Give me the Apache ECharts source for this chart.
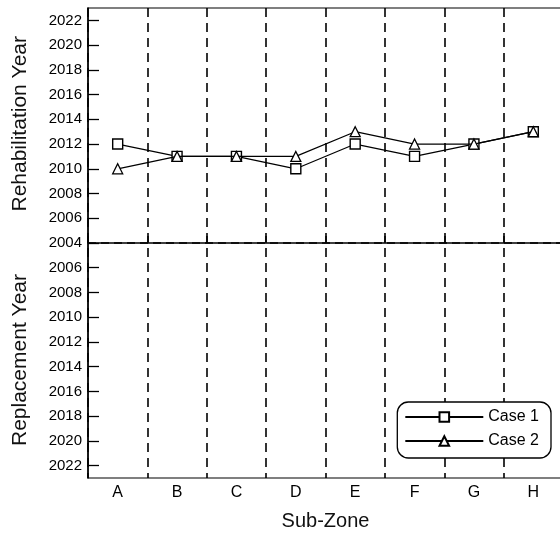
<!DOCTYPE html>
<html>
<head>
<meta charset="utf-8">
<script src="https://cdn.jsdelivr.net/npm/echarts@6/dist/echarts.min.js"></script>
<style>
html,body{margin:0;padding:0;background:#fff;}
#c{width:560px;height:533px;}
</style>
</head>
<body>
<div id="c"></div>
<script>
var categories = ['A','B','C','D','E','F','G','H'];
var case1Years = [2012, 2011, 2011, 2010, 2012, 2011, 2012, 2013];
var case2Years = [2010, 2011, 2011, 2011, 2013, 2012, 2012, 2013];
var tickYears = [2004, 2006, 2008, 2010, 2012, 2014, 2016, 2018, 2020, 2022];
var baseYear = 2004;
var axisExtent = 19;

var tickValues = [];
tickYears.forEach(function (y) {
  var d = y - baseYear;
  if (d === 0) tickValues.push(0); else { tickValues.push(d); tickValues.push(-d); }
});
tickValues.sort(function (a, b) { return a - b; });

function toAxis(y) { return y - baseYear; }

var font = 'Liberation Sans, Arial, sans-serif';
var chart = echarts.init(document.getElementById('c'), null, {renderer: 'canvas'});
chart.setOption({
  backgroundColor: '#fff',
  animation: false,
  grid: {left: 88, top: 8, right: -3, bottom: 55, outerBoundsMode: 'none', containLabel: false, show: true, borderColor: '#000', borderWidth: 1.2, backgroundColor: 'transparent'},
  xAxis: {
    type: 'category',
    data: categories,
    boundaryGap: true,
    name: 'Sub-Zone',
    nameLocation: 'middle',
    nameGap: 33,
    nameTextStyle: {fontFamily: font, fontSize: 20, color: '#111'},
    axisLine: {lineStyle: {color: '#000', width: 1.5}},
    axisTick: {show: true, inside: true, length: 7, interval: 0, lineStyle: {color: '#000', width: 1.5}},
    axisLabel: {fontFamily: font, fontSize: 16, color: '#000', margin: 7, interval: 0},
    splitLine: {show: true, interval: 0, lineStyle: {color: '#000', width: 1.6, type: [9, 6]}}
  },
  yAxis: {
    type: 'value',
    min: -axisExtent,
    max: axisExtent,
    axisLine: {show: true, lineStyle: {color: '#000', width: 1.5}},
    axisTick: {show: true, inside: true, length: 11, customValues: tickValues, lineStyle: {color: '#000', width: 1.3}},
    axisLabel: {
      customValues: tickValues,
      fontFamily: font, fontSize: 15, color: '#000', margin: 6,
      formatter: function (v) { return String(baseYear + Math.abs(v)); }
    },
    splitLine: {show: false}
  },
  legend: {
    right: 9,
    bottom: 75,
    orient: 'vertical',
    itemWidth: 78,
    itemHeight: 12,
    itemGap: 8,
    padding: [7, 12, 9, 7],
    borderColor: '#000',
    borderWidth: 1.3,
    borderRadius: 11,
    backgroundColor: '#fff',
    textStyle: {fontFamily: font, fontSize: 16, color: '#000'},
    data: ['Case 1', 'Case 2']
  },
  graphic: [
    {type: 'text', left: 10, top: 36, rotation: Math.PI / 2, style: {text: 'Rehabilitation Year', font: '21px ' + font, fill: '#111'}},
    {type: 'text', left: 10, top: 274, rotation: Math.PI / 2, style: {text: 'Replacement Year', font: '21px ' + font, fill: '#111'}}
  ],
  series: [
    {
      name: 'Case 1', type: 'line',
      data: case1Years.map(toAxis),
      symbol: 'rect', symbolSize: 10,
      lineStyle: {color: '#000', width: 1.2},
      itemStyle: {color: '#fff', borderColor: '#000', borderWidth: 1.4},
      markLine: {
        silent: true, symbol: 'none', label: {show: false},
        lineStyle: {color: '#000', width: 1.6, type: [8, 5]},
        data: [{yAxis: 0}]
      },
      z: 3
    },
    {
      name: 'Case 2', type: 'line',
      data: case2Years.map(toAxis),
      symbol: 'triangle', symbolSize: 10,
      lineStyle: {color: '#000', width: 1.2},
      itemStyle: {color: '#fff', borderColor: '#000', borderWidth: 1.3},
      z: 4
    }
  ]
});
</script>
</body>
</html>
